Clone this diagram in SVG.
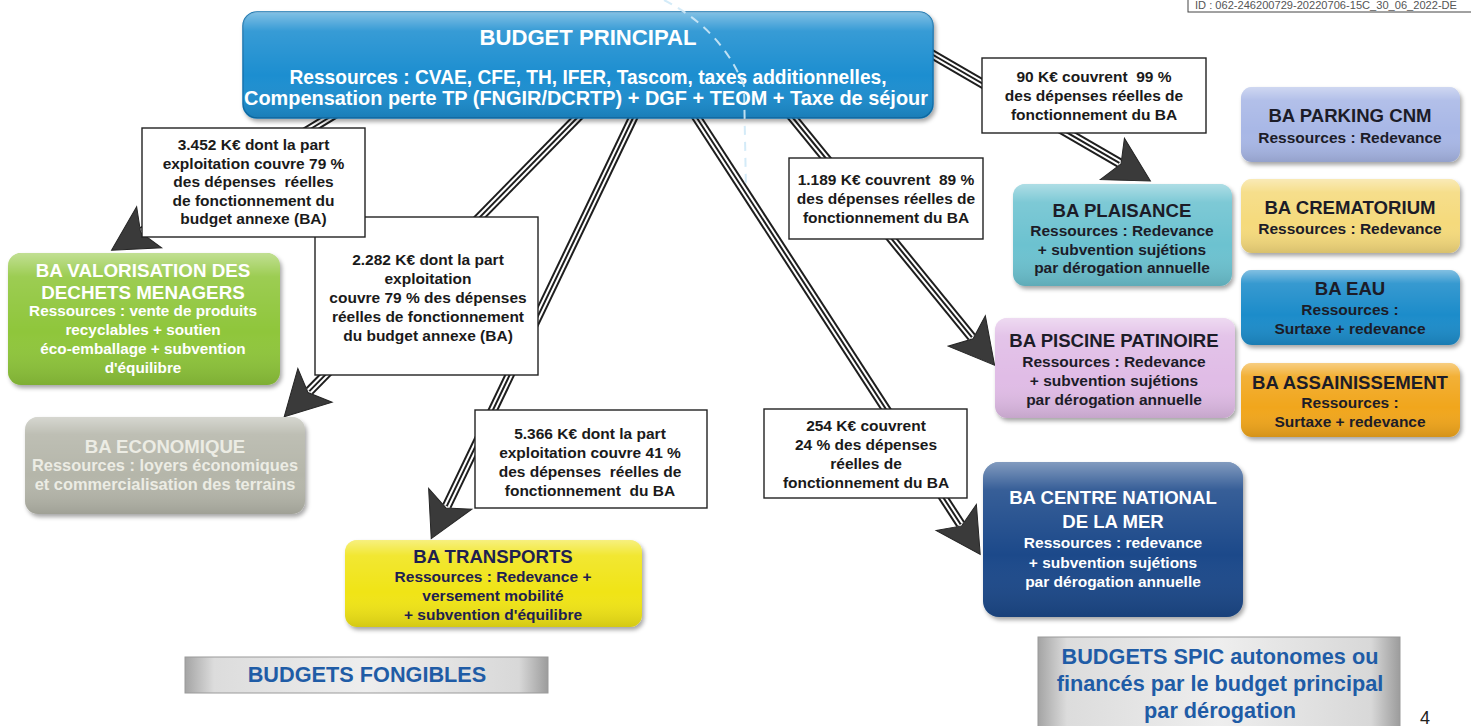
<svg xmlns="http://www.w3.org/2000/svg" width="1471" height="726" viewBox="0 0 1471 726">
<style>
.t{font-family:"Liberation Sans",Arial,sans-serif;font-weight:bold;text-anchor:middle}
.tt{font-size:18.6px}
.ts{font-size:15.5px}
.lb{font-size:15.5px;fill:#1a1a1a}
.w{fill:#ffffff}
.d{fill:#1c1c28}
.box{fill:#ffffff;stroke:#222;stroke-width:1.4}
.node{filter:url(#sh)}
.gloss{fill:url(#gl)}
.o use{fill:none;stroke:#1e1e1e;stroke-width:10}
.m use{fill:none;stroke:#ffffff;stroke-width:6}
.c use{fill:none;stroke:#1e1e1e;stroke-width:2;marker-end:url(#ah)}
.legend{fill:url(#metal);stroke:#9a9a9a;stroke-width:1}
.lt{font-family:"Liberation Sans",Arial,sans-serif;font-weight:bold;text-anchor:middle;font-size:21.7px;fill:#1f5ca6}
</style>
<defs>
<filter id="sh" x="-10%" y="-10%" width="125%" height="130%"><feDropShadow dx="2" dy="3" stdDeviation="2" flood-color="#000" flood-opacity="0.35"/></filter>
<linearGradient id="gl" x1="0" y1="0" x2="0" y2="1"><stop offset="0" stop-color="#fff" stop-opacity="0.45"/><stop offset="0.18" stop-color="#fff" stop-opacity="0.12"/><stop offset="0.6" stop-color="#fff" stop-opacity="0"/><stop offset="1" stop-color="#000" stop-opacity="0.12"/></linearGradient>
<linearGradient id="metal" x1="0" y1="0" x2="1" y2="0"><stop offset="0" stop-color="#a4a4a4"/><stop offset="0.08" stop-color="#dcdcdc"/><stop offset="0.5" stop-color="#eeeeee"/><stop offset="0.92" stop-color="#d8d8d8"/><stop offset="1" stop-color="#9c9c9c"/></linearGradient>
<marker id="ah" markerUnits="userSpaceOnUse" markerWidth="70" markerHeight="70" viewBox="-20 -35 70 70" refX="0" refY="0" orient="auto" overflow="visible"><polygon points="36,0 -8,-24 2,0 -8,24" fill="#3a3a3a" stroke="#262626" stroke-width="1"/></marker>
<path id="p1" d="M358 100 L142.3 231.4"/>
<path id="p2" d="M594.6 100 L309.4 391.1"/>
<path id="p3" d="M641.6 100 L446.8 506.1"/>
<path id="p4" d="M685.3 100 L960.6 524.2"/>
<path id="p5" d="M778.3 100 L971.8 337.2"/>
<path id="p6" d="M917.7 46 L1119.3 162.9"/>
</defs>
<rect x="0" y="0" width="1471" height="726" fill="#ffffff"/>

<g id="stamp">
<rect x="1188" y="-2" width="290" height="14" fill="#fff" stroke="#444" stroke-width="1"/>
<text x="1195" y="9" font-family="Liberation Sans, Arial, sans-serif" font-size="11" fill="#555" textLength="262" lengthAdjust="spacingAndGlyphs">ID : 062-246200729-20220706-15C_30_06_2022-DE</text>
</g>

<g id="connectors">
<g class="o"><use href="#p1"/><use href="#p2"/><use href="#p3"/><use href="#p4"/><use href="#p5"/><use href="#p6"/></g>
<g class="m"><use href="#p1"/><use href="#p2"/><use href="#p3"/><use href="#p4"/><use href="#p5"/><use href="#p6"/></g>
<g class="c"><use href="#p1"/><use href="#p2"/><use href="#p3"/><use href="#p4"/><use href="#p5"/><use href="#p6"/></g>
</g>

<g id="n-budget">
<rect class="node" x="243" y="12" width="690" height="106" rx="14" fill="#1a8ed0" stroke="#1171ae" stroke-width="1.5"/>
<rect class="gloss" x="243" y="12" width="690" height="106" rx="14"/>
<text class="t w" x="588" y="45" font-size="22" textLength="217" lengthAdjust="spacingAndGlyphs">BUDGET PRINCIPAL</text>
<text class="t w" x="588" y="84" font-size="19.8" textLength="597" lengthAdjust="spacingAndGlyphs">Ressources : CVAE, CFE, TH, IFER, Tascom, taxes additionnelles,</text>
<text class="t w" x="586" y="105" font-size="19.8" textLength="684" lengthAdjust="spacingAndGlyphs">Compensation perte TP (FNGIR/DCRTP) + DGF + TEOM + Taxe de séjour</text>
</g>

<g id="l-2282">
<rect class="box" x="315" y="217" width="223" height="158"/>
<text class="t lb" x="428" y="265">2.282 K€ dont la part</text>
<text class="t lb" x="428" y="283.5">exploitation</text>
<text class="t lb" x="428" y="302.5">couvre 79 % des dépenses</text>
<text class="t lb" x="428" y="321.5">réelles de fonctionnement</text>
<text class="t lb" x="428" y="340.5">du budget annexe (BA)</text>
</g>

<g id="l-3452">
<rect class="box" x="142" y="128" width="223" height="109"/>
<text class="t lb" x="253.5" y="150">3.452 K€ dont la part</text>
<text class="t lb" x="253.5" y="168.5">exploitation couvre 79 %</text>
<text class="t lb" x="253.5" y="187" xml:space="preserve">des dépenses  réelles</text>
<text class="t lb" x="253.5" y="205.5">de fonctionnement du</text>
<text class="t lb" x="253.5" y="224">budget annexe (BA)</text>
</g>

<g id="l-5366">
<rect class="box" x="475" y="410" width="232" height="98"/>
<text class="t lb" x="590" y="438.5">5.366 K€ dont la part</text>
<text class="t lb" x="590" y="457.5">exploitation couvre 41 %</text>
<text class="t lb" x="590" y="476.5" xml:space="preserve">des dépenses  réelles de</text>
<text class="t lb" x="590" y="495.5" xml:space="preserve">fonctionnement  du BA</text>
</g>

<g id="l-90">
<rect class="box" x="982" y="58" width="224" height="75"/>
<text class="t lb" x="1094" y="82" xml:space="preserve">90 K€ couvrent  99 %</text>
<text class="t lb" x="1094" y="101">des dépenses réelles de</text>
<text class="t lb" x="1094" y="120">fonctionnement du BA</text>
</g>

<g id="l-1189">
<rect class="box" x="789" y="158" width="194" height="81"/>
<text class="t lb" x="886" y="185" xml:space="preserve">1.189 K€ couvrent  89 %</text>
<text class="t lb" x="886" y="204">des dépenses réelles de</text>
<text class="t lb" x="886" y="223">fonctionnement du BA</text>
</g>

<g id="l-254">
<rect class="box" x="764" y="409" width="203" height="89"/>
<text class="t lb" x="866" y="431">254 K€ couvrent</text>
<text class="t lb" x="866" y="450">24 % des dépenses</text>
<text class="t lb" x="866" y="469">réelles de</text>
<text class="t lb" x="866" y="488">fonctionnement du BA</text>
</g>

<g id="n-valorisation">
<rect class="node" x="8" y="253" width="272" height="132" rx="13" fill="#8fc63a"/>
<rect class="gloss" x="8" y="253" width="272" height="132" rx="13"/>
<text class="t w" x="143" y="277" font-size="18.8">BA VALORISATION DES</text>
<text class="t w" x="143" y="299" font-size="18.8">DECHETS MENAGERS</text>
<text class="t w" x="143" y="316" font-size="15.3">Ressources : vente de produits</text>
<text class="t w" x="143" y="335" font-size="15.3">recyclables + soutien</text>
<text class="t w" x="143" y="354" font-size="15.3">éco-emballage + subvention</text>
<text class="t w" x="143" y="373" font-size="15.3">d'équilibre</text>
</g>

<g id="n-economique">
<rect class="node" x="25" y="417" width="280" height="97" rx="13" fill="#b5b6aa"/>
<rect class="gloss" x="25" y="417" width="280" height="97" rx="13"/>
<text class="t tt" x="165" y="453" fill="#ecece4">BA ECONOMIQUE</text>
<text class="t" x="165" y="471" font-size="16.4" fill="#ecece4">Ressources : loyers économiques</text>
<text class="t" x="165" y="490" font-size="16.4" fill="#ecece4">et commercialisation des terrains</text>
</g>

<g id="n-transports">
<rect class="node" x="345" y="540" width="297" height="87" rx="12" fill="#f0e418"/>
<rect class="gloss" x="345" y="540" width="297" height="87" rx="12"/>
<text class="t tt" x="493" y="563" fill="#1e2050">BA TRANSPORTS</text>
<text class="t ts" x="493" y="582" fill="#1e2050">Ressources : Redevance +</text>
<text class="t ts" x="493" y="601" fill="#1e2050">versement mobilité</text>
<text class="t ts" x="493" y="620" fill="#1e2050">+ subvention d'équilibre</text>
</g>

<g id="n-plaisance">
<rect class="node" x="1013" y="184" width="219" height="102" rx="12" fill="#6cc2d0"/>
<rect class="gloss" x="1013" y="184" width="219" height="102" rx="12"/>
<text class="t tt d" x="1122" y="217">BA PLAISANCE</text>
<text class="t ts d" x="1122" y="235.5">Ressources : Redevance</text>
<text class="t ts d" x="1122" y="254.5">+ subvention sujétions</text>
<text class="t ts d" x="1122" y="273">par dérogation annuelle</text>
</g>

<g id="n-piscine">
<rect class="node" x="995" y="318" width="240" height="100" rx="12" fill="#e0bce6"/>
<rect class="gloss" x="995" y="318" width="240" height="100" rx="12"/>
<text class="t tt d" x="1114" y="347">BA PISCINE PATINOIRE</text>
<text class="t ts d" x="1114" y="366.5">Ressources : Redevance</text>
<text class="t ts d" x="1114" y="386">+ subvention sujétions</text>
<text class="t ts d" x="1114" y="405">par dérogation annuelle</text>
</g>

<g id="n-cnm">
<rect class="node" x="983" y="462" width="260" height="155" rx="16" fill="#1b4a8a"/>
<rect class="gloss" x="983" y="462" width="260" height="155" rx="16"/>
<text class="t tt w" x="1113" y="504">BA CENTRE NATIONAL</text>
<text class="t tt w" x="1113" y="527.5">DE LA MER</text>
<text class="t ts w" x="1113" y="548">Ressources : redevance</text>
<text class="t ts w" x="1113" y="567.5">+ subvention sujétions</text>
<text class="t ts w" x="1113" y="586.5">par dérogation annuelle</text>
</g>

<g id="n-parking">
<rect class="node" x="1241" y="87" width="219" height="75" rx="11" fill="#a8b7e6"/>
<rect class="gloss" x="1241" y="87" width="219" height="75" rx="11"/>
<text class="t tt d" x="1350" y="122">BA PARKING CNM</text>
<text class="t ts d" x="1350" y="142.5">Ressources : Redevance</text>
</g>

<g id="n-crematorium">
<rect class="node" x="1241" y="179" width="219" height="74" rx="11" fill="#f5da7c"/>
<rect class="gloss" x="1241" y="179" width="219" height="74" rx="11"/>
<text class="t tt d" x="1350" y="213.5">BA CREMATORIUM</text>
<text class="t ts d" x="1350" y="233.5">Ressources : Redevance</text>
</g>

<g id="n-eau">
<rect class="node" x="1241" y="270" width="219" height="75" rx="11" fill="#1f8cca"/>
<rect class="gloss" x="1241" y="270" width="219" height="75" rx="11"/>
<text class="t tt d" x="1350" y="295">BA EAU</text>
<text class="t ts d" x="1350" y="315">Ressources :</text>
<text class="t ts d" x="1350" y="334">Surtaxe + redevance</text>
</g>

<g id="n-assainissement">
<rect class="node" x="1241" y="363" width="219" height="74" rx="11" fill="#f1a61a"/>
<rect class="gloss" x="1241" y="363" width="219" height="74" rx="11"/>
<text class="t tt d" x="1350" y="388.5">BA ASSAINISSEMENT</text>
<text class="t ts d" x="1350" y="408">Ressources :</text>
<text class="t ts d" x="1350" y="427">Surtaxe + redevance</text>
</g>

<g id="legend-fongibles">
<rect class="legend" x="185" y="657" width="363" height="36"/>
<text class="lt" x="367" y="682">BUDGETS FONGIBLES</text>
</g>

<g id="legend-spic">
<rect class="legend" x="1038" y="637" width="362" height="95"/>
<text class="lt" x="1220" y="664">BUDGETS SPIC autonomes ou</text>
<text class="lt" x="1220" y="691">financés par le budget principal</text>
<text class="lt" x="1220" y="718">par dérogation</text>
</g>

<text id="page-number" x="1425" y="724" font-family="Liberation Sans, Arial, sans-serif" font-size="18" text-anchor="middle" fill="#222">4</text>

<path id="fold-mark" d="M664 0 Q722 30 744 86 L746 190" fill="none" stroke="#cfe9f7" stroke-width="2" stroke-dasharray="9 7" opacity="0.9"/>
</svg>
